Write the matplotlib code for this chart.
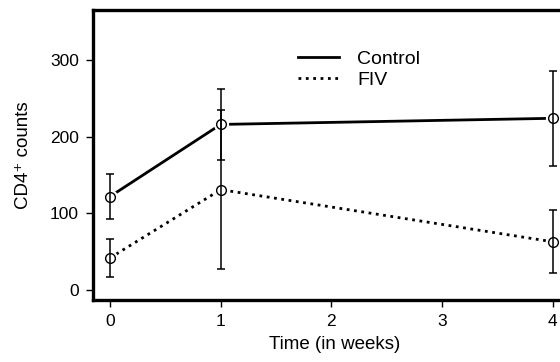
import numpy as np
import matplotlib
matplotlib.use("Agg")
import matplotlib.pyplot as plt

plt.rcParams['font.family'] = ['Liberation Sans', 'DejaVu Sans']

weeks = np.array([0, 1, 4])
control = np.array([122, 216, 224])
control_err = np.array([29, 46, 62])
fiv = np.array([42, 131, 63])
fiv_err = np.array([25, 104, 41])

fig = plt.figure(figsize=(5.6, 3.62), dpi=100)
ax = fig.add_axes([0.166, 0.171, 0.841, 0.801])

# data lines
ax.plot(weeks, control, '-', color='black', lw=2.0, zorder=2, label='Control')
ax.plot(weeks, fiv, ':', color='black', lw=2.0, zorder=2, label='FIV')

# white discs leave a small gap between line and circle
for y in (control, fiv):
    ax.plot(weeks, y, 'o', ms=11, mfc='white', mec='none', zorder=3)

for y, e in ((control, control_err), (fiv, fiv_err)):
    ax.errorbar(weeks, y, yerr=e, fmt='none', ecolor='black', elinewidth=1.1,
                capsize=2.6, capthick=1.1, zorder=4)
    ax.plot(weeks, y, 'o', ms=7, mfc='none', mec='black', mew=1.0, zorder=5)

ax.set_xlim(-0.154, 4.1)
ax.set_ylim(-13, 365)
ax.set_xticks([0, 1, 2, 3, 4])
ax.set_yticks([0, 100, 200, 300])
ax.tick_params(direction='out', length=5, width=1.0, labelsize=12.5, pad=5)

for side in ('left', 'bottom', 'top'):
    ax.spines[side].set_linewidth(2.4)
ax.spines['right'].set_visible(False)

ax.set_xlabel('Time (in weeks)', fontsize=13.5)
ax.set_ylabel('CD4⁺ counts', fontsize=13.5)
ax.xaxis.set_label_coords(0.514, -0.125)
ax.yaxis.set_label_coords(-0.13, 0.5)

ax.legend(loc='upper left', bbox_to_anchor=(298 / 560, 1 - 50 / 362),
          bbox_transform=fig.transFigure, frameon=False, borderpad=0,
          borderaxespad=0, fontsize=14, handlelength=2.1,
          handletextpad=0.95, labelspacing=0.2)

fig.savefig('out.png', dpi=100)
